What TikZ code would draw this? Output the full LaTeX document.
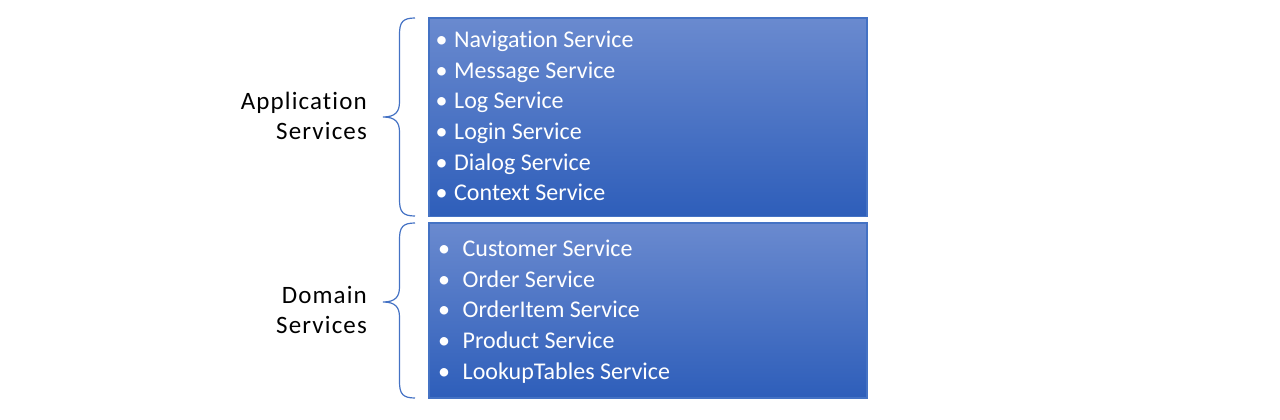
\documentclass[tikz,border=0pt]{standalone}
\usepackage{fontspec}
\setmainfont{Carlito}[Ligatures=NoCommon]
\newfontfamily\lblfont{Carlito}[Ligatures=NoCommon,LetterSpace=4.5]
\begin{document}
\begin{tikzpicture}[x=1pt,y=-1pt,
  box/.style={draw={rgb,255:red,68;green,114;blue,196},line width=1.2pt,
    top color={rgb,255:red,106;green,138;blue,207},
    bottom color={rgb,255:red,46;green,94;blue,186}},
  item/.style={anchor=base west,inner sep=0pt,text=white,font=\fontsize{24}{29}\selectfont},
  bul/.style={anchor=base,inner sep=0pt,text=white,font=\fontsize{24}{29}\selectfont},
  lbl/.style={anchor=base east,inner sep=0pt,text=black,font=\lblfont\fontsize{25}{30}\selectfont},
  brc/.style={draw={rgb,255:red,68;green,114;blue,196},line width=1.2pt}]
\useasboundingbox (0,0) rectangle (1280,420);
% boxes
\path[box] (429,18) rectangle (867,216.5);
\path[box] (429,223) rectangle (867,398);
% top items
\foreach \t [count=\i from 0] in {Navigat\kern0pt ion Service,Message Service,Log Service,Login Service,Dialog Service,Context Service}{
  \node[bul] (tb\i) at (441.5,47.7+30.6*\i) {•};
  \node[item] (ti\i) at (454,47.7+30.6*\i) {\t};
}
\foreach \t [count=\i from 0] in {Customer Service,Order Service,OrderItem Service,Product Service,LookupTables Service}{
  \node[bul] (bb\i) at (444,256.7+30.6*\i) {•};
  \node[item] (bi\i) at (462.5,256.7+30.6*\i) {\t};
}
% labels
\node[lbl] (a1) at (367,109) {Application};
\node[lbl] (a2) at (367,139.5) {Services};
\node[lbl] (d1) at (367,303) {Domain};
\node[lbl] (d2) at (367,333.5) {Services};
% braces
\draw[brc] (415,18) .. controls (403,18) and (399.5,22) .. (399.5,34)
  -- (399.5,102) .. controls (399.5,112) and (395,117) .. (383,117)
  .. controls (395,117) and (399.5,122) .. (399.5,132)
  -- (399.5,200) .. controls (399.5,212) and (403,216) .. (415,216);
\draw[brc] (415,223) .. controls (403,223) and (399.5,227) .. (399.5,239)
  -- (399.5,287) .. controls (399.5,297) and (395,302) .. (383,302)
  .. controls (395,302) and (399.5,307) .. (399.5,317)
  -- (399.5,382) .. controls (399.5,394) and (403,398) .. (415,398);
\end{tikzpicture}
\end{document}
